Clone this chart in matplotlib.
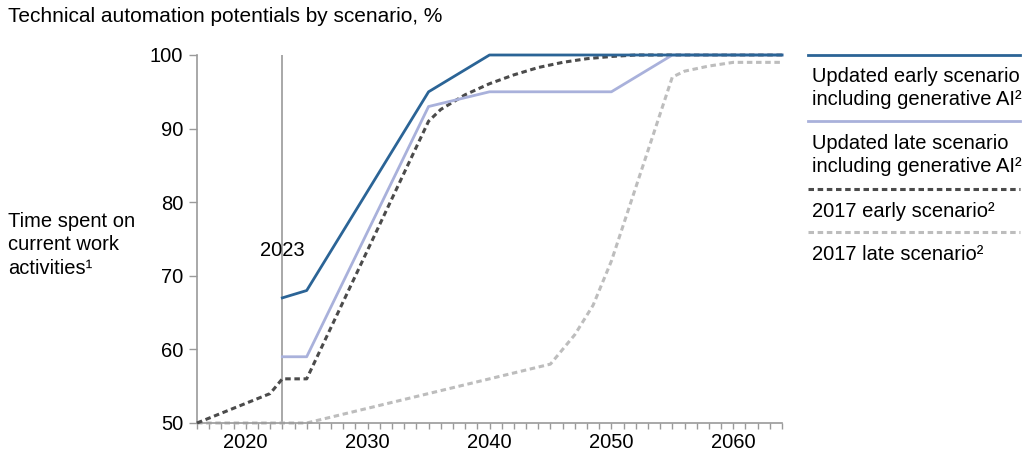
import matplotlib
matplotlib.use('Agg')
import matplotlib.pyplot as plt
from matplotlib.lines import Line2D

plt.rcParams['font.family'] = ['Liberation Sans', 'DejaVu Sans']

# scenario curves (year, share of time automatable, %)
early_new_years = [2023, 2025, 2035, 2040, 2064]
early_new_vals = [67, 68, 95, 100, 100]

late_new_years = [2023, 2025, 2035, 2040, 2050, 2055, 2064]
late_new_vals = [59, 59, 93, 95, 95, 100, 100]

early_2017_years = [2016, 2022, 2023, 2025, 2035, 2036, 2038, 2040, 2042, 2044, 2046, 2048, 2050, 2052, 2064]
early_2017_vals = [50, 54, 56, 56, 91, 92.6, 94.6, 96.1, 97.3, 98.3, 99.0, 99.5, 99.8, 100, 100]

late_2017_years = [2016, 2025, 2045, 2047, 2048.5, 2050, 2055, 2056, 2058, 2060, 2064]
late_2017_vals = [50, 50, 58, 62, 66, 72, 97, 97.8, 98.5, 99, 99]

legend_labels = ['Updated early scenario\nincluding generative AI²',
                 'Updated late scenario\nincluding generative AI²',
                 '2017 early scenario²',
                 '2017 late scenario²']

c_early = '#2b6496'
c_late = '#a9b1db'
c_e17 = '#4b4b4b'
c_l17 = '#bdbdbd'
axis_grey = '#9a9a9a'
dash = (0, (1.8, 1.2))
fs = 14.5

fig = plt.figure(figsize=(10.26, 4.59), dpi=100)
ax = fig.add_axes([197 / 1026, 1 - 423 / 459, (782 - 197) / 1026, (423 - 55) / 459])

ax.axvline(2023, color=axis_grey, lw=1.2, zorder=1)
ax.text(2023, 73.4, '2023', ha='center', va='center', fontsize=fs)

ax.plot(late_2017_years, late_2017_vals, color=c_l17, lw=2.2, ls=dash, clip_on=False, zorder=2)
ax.plot(early_2017_years, early_2017_vals, color=c_e17, lw=2.2, ls=dash, clip_on=False, zorder=3)
ax.plot(late_new_years, late_new_vals, color=c_late, lw=2.0, clip_on=False, zorder=4)
ax.plot(early_new_years, early_new_vals, color=c_early, lw=2.0, clip_on=False, zorder=5)

ax.set_xlim(2016, 2064)
ax.set_ylim(50, 100)
ax.set_xticks([2020, 2030, 2040, 2050, 2060])
ax.set_xticks(range(2016, 2065), minor=True)
ax.set_yticks([50, 60, 70, 80, 90, 100])

for s in ['top', 'right']:
    ax.spines[s].set_visible(False)
for s in ['left', 'bottom']:
    ax.spines[s].set_color(axis_grey)
    ax.spines[s].set_linewidth(1.2)
ax.tick_params(axis='x', which='both', direction='out', length=4, width=1, color=axis_grey,
               labelsize=fs, pad=3)
ax.tick_params(axis='y', direction='out', length=6, width=1, color=axis_grey, labelsize=fs, pad=4)

fig.text(8 / 1026, 1 - 16 / 459, 'Technical automation potentials by scenario, %',
         fontsize=15, ha='left', va='center')
fig.text(8 / 1026, 1 - 245 / 459, 'Time spent on\ncurrent work\nactivities¹',
         fontsize=fs, ha='left', va='center', linespacing=1.3)

# legend built by hand on the right
x0, x1 = 808 / 1026, 1020 / 1026
styles = [(c_early, '-', 2.0), (c_late, '-', 2.0), (c_e17, dash, 2.2), (c_l17, dash, 2.2)]
line_ys = [55, 121, 189, 232]
text_ys = [88, 155, 211, 254]
for (c, ls, lw), ly, ty, lab in zip(styles, line_ys, text_ys, legend_labels):
    fig.add_artist(Line2D([x0, x1], [1 - ly / 459, 1 - ly / 459], color=c, ls=ls, lw=lw))
    fig.text(812 / 1026, 1 - ty / 459, lab, fontsize=fs, ha='left', va='center', linespacing=1.25)

fig.savefig('out.png', dpi=100)
